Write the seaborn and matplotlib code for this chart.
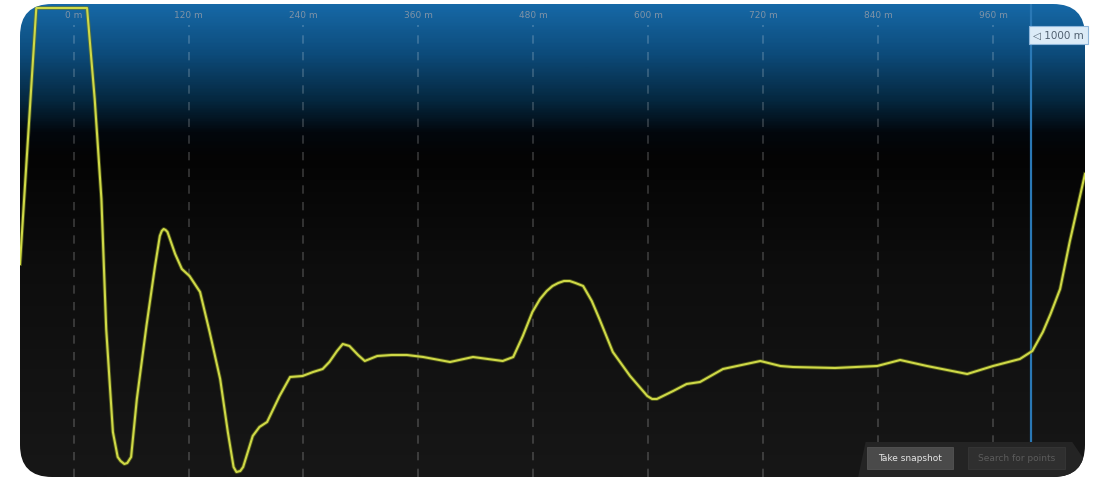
import numpy as np
import pandas as pd
import seaborn as sns
import matplotlib.pyplot as plt
from matplotlib.patches import FancyBboxPatch, Rectangle, Polygon
from matplotlib.colors import LinearSegmentedColormap
from matplotlib.transforms import IdentityTransform

# distance along trace (m) and signal level (arbitrary units)
distance = [-56, -39, 14, 22, 29, 34, 41, 46, 49, 53, 56, 60, 66, 76, 85, 90, 92, 94, 96,
            98, 106, 113, 121, 132, 142, 153, 161, 167, 170, 174, 177, 187, 194, 202, 215,
            226, 239, 250, 260, 267, 275, 281, 288, 297, 304, 317, 332, 348, 365, 393, 417,
            448, 459, 469, 479, 487, 494, 500, 506, 512, 518, 524, 532, 541, 549, 563, 581,
            599, 604, 609, 626, 640, 654, 678, 717, 738, 751, 795, 839, 863, 891, 933, 960,
            988, 1001, 1012, 1020, 1030, 1040, 1056]
level = [213, 469, 469, 378, 278, 148, 45, 20, 16, 13, 14, 20, 78, 151, 211, 241, 246, 248,
         247, 245, 223, 208, 201, 185, 145, 98, 45, 10, 5, 6, 10, 41, 50, 55, 81, 100, 101,
         105, 108, 115, 126, 133, 131, 122, 116, 121, 122, 122, 120, 115, 120, 116, 120,
         141, 165, 178, 186, 191, 194, 196, 196, 194, 191, 176, 158, 125, 101, 81, 78, 78,
         86, 93, 95, 108, 116, 111, 110, 109, 111, 117, 111, 103, 111, 118, 126, 145, 163,
         188, 235, 303]

grid_marks = [0, 120, 240, 360, 480, 600, 720, 840, 960]
grid_labels = [f"{g} m" for g in grid_marks]
cursor_pos = 1000

df = pd.DataFrame({"distance": distance, "level": level})

fig = plt.figure(figsize=(10.97, 4.81), dpi=100)
fig.patch.set_facecolor("white")
ax = fig.add_axes([20 / 1097, 3 / 481, 1065 / 1097, 473 / 481])

# rounded panel used as clip
panel = FancyBboxPatch((20, 3), 1065, 473, boxstyle="round,pad=0,rounding_size=32",
                       transform=IdentityTransform(), facecolor="none", edgecolor="none")

# background gradient (bottom -> top)
cmap = LinearSegmentedColormap.from_list("bg", [
    (0.0, "#171717"), (0.45, "#0d0d0d"), (0.68, "#040404"), (0.73, "#02070d"),
    (0.80, "#052840"), (0.90, "#0d4c7c"), (1.0, "#1668a6")])
grad = np.linspace(0, 1, 400).reshape(-1, 1)
ax.imshow(grad, cmap=cmap, origin="lower", aspect="auto",
          extent=(-56, 1056, 0, 473), zorder=0)

# dashed grid + top labels
ax.vlines(grid_marks, 0, 452, colors="white", alpha=0.2, lw=1.2,
          linestyles=(0, (5, 5)), zorder=1)
for g, lab in zip(grid_marks, grid_labels):
    ax.text(g, 463, lab, ha="center", va="center", fontsize=6.5,
            color="#7f93a7", zorder=2)

# cursor
ax.axvline(cursor_pos, color="#2a78b5", lw=1.6, zorder=3)
ax.text(cursor_pos + 2, 442, "\u25c1 1000 m", ha="left", va="center", fontsize=7.5,
        color="#506070", zorder=6,
        bbox=dict(boxstyle="square,pad=0.4", facecolor="#dcebf7", edgecolor="#8fb6da", lw=0.8))

# trace
sns.lineplot(data=df, x="distance", y="level", ax=ax, sort=False, estimator=None,
             color="#6f7a1e", lw=2.8, alpha=0.6, zorder=4)
sns.lineplot(data=df, x="distance", y="level", ax=ax, sort=False, estimator=None,
             color="#cfd947", lw=1.5, zorder=5)
ax.set_xlim(-56, 1056)
ax.set_ylim(0, 473)
ax.axis("off")

# toolbar with buttons
ax.add_patch(Polygon([(0.787, 0), (0.794, 0.074), (0.988, 0.074), (1.0, 0.034), (1.0, 0)],
                     closed=True, transform=ax.transAxes, facecolor="#242424",
                     edgecolor="none", zorder=7))
ax.add_patch(Rectangle((0.795, 0.017), 0.081, 0.047, transform=ax.transAxes,
                       facecolor="#4a4a4a", edgecolor="#5a5a5a", lw=0.5, zorder=8))
ax.text(0.8355, 0.0405, "Take snapshot", transform=ax.transAxes, ha="center", va="center",
        fontsize=6.5, color="#e6e6e6", zorder=9)
ax.add_patch(Rectangle((0.890, 0.017), 0.091, 0.047, transform=ax.transAxes,
                       facecolor="#2f2f2f", edgecolor="#3a3a3a", lw=0.5, zorder=8))
ax.text(0.9355, 0.0405, "Search for points", transform=ax.transAxes, ha="center", va="center",
        fontsize=6.5, color="#5c5c5c", zorder=9)

for art in ax.get_children():
    try:
        art.set_clip_path(panel)
    except Exception:
        pass

fig.savefig("out.png", dpi=100, facecolor="white")
